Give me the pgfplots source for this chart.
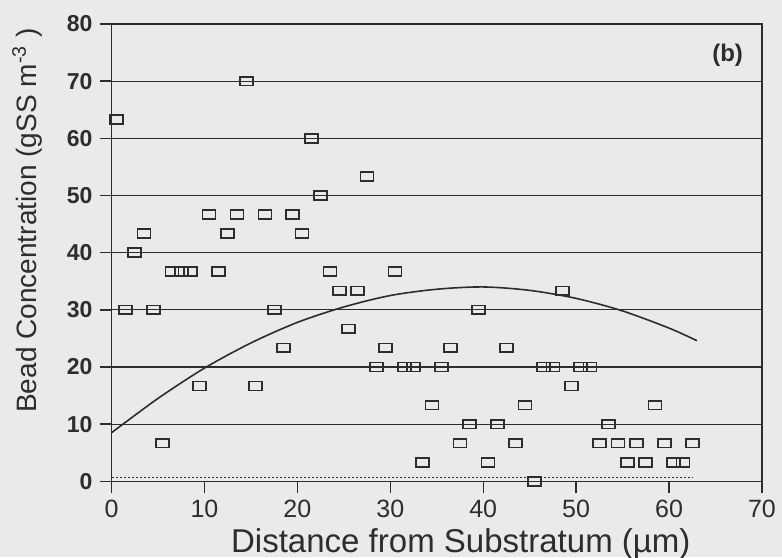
\documentclass[border=0pt]{standalone}
\usepackage{fontspec}
\setmainfont{Liberation Sans}
\usepackage{pgfplots}
\pgfplotsset{compat=1.18}
\usetikzlibrary{backgrounds}

\definecolor{paper}{RGB}{234,234,234}
\definecolor{ink}{RGB}{45,45,45}

\pgfdeclareplotmark{box}{%
  \pgfpathrectangle{\pgfpoint{-3.25pt}{-2.2pt}}{\pgfpoint{6.5pt}{4.4pt}}%
  \pgfusepathqstroke}

\pgfplotstableread{
x y
0.5 63.33
1.5 30
2.5 40
3.5 43.33
4.5 30
5.5 6.67
6.5 36.67
7.5 36.67
8.5 36.67
9.5 16.67
10.5 46.67
11.5 36.67
12.5 43.33
13.5 46.67
14.5 70
15.5 16.67
16.5 46.67
17.5 30
18.5 23.33
19.5 46.67
20.5 43.33
21.5 60
22.5 50
23.5 36.67
24.5 33.33
25.5 26.67
26.5 33.33
27.5 53.33
28.5 20
29.5 23.33
30.5 36.67
31.5 20
32.5 20
33.5 3.33
34.5 13.33
35.5 20
36.5 23.33
37.5 6.67
38.5 10
39.5 30
40.5 3.33
41.5 10
42.5 23.33
43.5 6.67
44.5 13.33
45.5 0
46.5 20
47.5 20
48.5 33.33
49.5 16.67
50.5 20
51.5 20
52.5 6.67
53.5 10
54.5 6.67
55.5 3.33
56.5 6.67
57.5 3.33
58.5 13.33
59.5 6.67
60.5 3.33
61.5 3.33
62.5 6.67
}\beads

\pgfplotstableread{
x y
0 8.5
5 14.5
10 19.8
15 24.2
20 27.8
25 30.5
30 32.5
35 33.6
40 34.0
45 33.4
50 32.0
55 29.8
60 26.8
63 24.6
}\fitline

\begin{document}
\begin{tikzpicture}
\begin{axis}[
    scale only axis,
    width=325pt, height=228.5pt,
    xmin=0, xmax=70, ymin=0, ymax=80,
    xtick={0,10,...,70}, ytick={0,10,...,80},
    axis line style={ink, line width=0.7pt},
    tick style={ink, line width=0.7pt},
    tick align=outside,
    major tick length=6pt,
    xtick pos=bottom, ytick pos=left,
    ymajorgrids,
    grid style={ink, line width=0.6pt},
    /pgf/number format/assume math mode=true,
    xticklabel style={font=\fontsize{12.5}{14}\selectfont, text=ink},
    yticklabel style={font=\fontsize{11.5}{13}\selectfont\bfseries, text=ink},
    xlabel={Distance from Substratum (µm)},
    ylabel={Bead Concentration (gSS m\textsuperscript{-3} )},
    xlabel style={font=\fontsize{16.5}{18}\selectfont, text=ink,
        at={(axis description cs:0.537,0)}, anchor=north, yshift=-20pt},
    ylabel style={font=\fontsize{14}{16}\selectfont, text=ink,
        at={(ticklabel cs:0.57)}, yshift=5.5pt},
    clip=false,
]
\addplot[only marks, mark=box, mark options={ink, line width=0.85pt}] table[x=x,y=y] {\beads};
\addplot[ink, line width=0.8pt, smooth] table[x=x,y=y] {\fitline};
\addplot[ink, line width=0.6pt, dash pattern=on 1.2pt off 0.8pt] coordinates {(0,0.65) (62.5,0.65)};
\node[font=\fontsize{12}{14}\selectfont\bfseries, text=ink] at (axis cs:66.3,74.6) {(b)};
\coordinate (bl) at (rel axis cs:0,0);
\coordinate (tr) at (rel axis cs:1,1);
\end{axis}
\pgfresetboundingbox
\path[use as bounding box] ([xshift=-55.75pt,yshift=-38pt]bl) rectangle ([xshift=10pt,yshift=12pt]tr);
\begin{scope}[on background layer]
\fill[paper] ([xshift=-55.75pt,yshift=-38pt]bl) rectangle ([xshift=10pt,yshift=12pt]tr);
\end{scope}
\end{tikzpicture}
\end{document}
